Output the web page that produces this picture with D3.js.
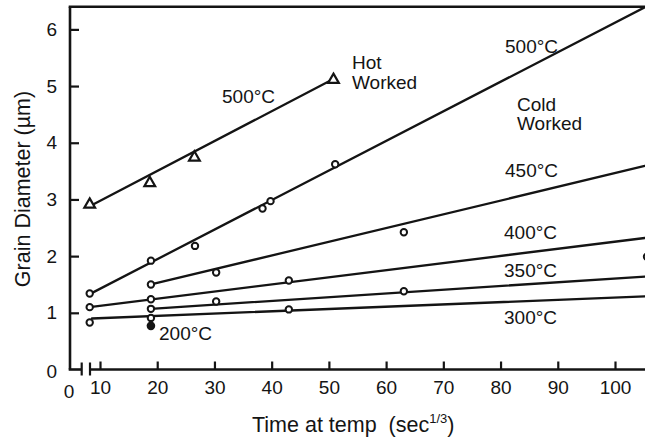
<!DOCTYPE html>
<html>
<head>
<meta charset="utf-8">
<script src="https://cdn.jsdelivr.net/npm/d3@7"></script>
<style>
  html, body { margin: 0; padding: 0; background: #fff; }
  svg { display: block; font-family: "Liberation Sans", Arial, Helvetica, sans-serif; }
  text { fill: #141414; }
</style>
</head>
<body>
<svg id="chart" width="645" height="440"></svg>
<script>
// Tick values
const xTicks = [10, 20, 30, 40, 50, 60, 70, 80, 90, 100];
const yTicks = [1, 2, 3, 4, 5, 6];

// Hot worked, 500°C (triangles)
const hotX = [8.2, 18.7, 26.5, 50.8];
const hotY = [2.91, 3.29, 3.74, 5.11];

// Cold worked series (open circles)
const c500X = [8.2, 18.9, 26.6, 38.4, 39.8, 51.1];
const c500Y = [1.34, 1.92, 2.18, 2.84, 2.97, 3.62];
const c450X = [18.9, 30.3, 63.1];
const c450Y = [1.50, 1.71, 2.42];
const c400X = [8.2, 18.9, 43.0, 105.6];
const c400Y = [1.10, 1.24, 1.57, 1.99];
const c350X = [18.9, 30.3, 63.1];
const c350Y = [1.07, 1.20, 1.38];
const c300X = [8.2, 18.9, 43.0];
const c300Y = [0.83, 0.91, 1.06];
// 200°C (filled point)
const c200X = [18.9];
const c200Y = [0.77];

// Fitted trend lines: [xStart, yStart, xEnd, yEnd]
const fitHot = [8.2, 2.88, 50.7, 5.12];
const fit500 = [8.2, 1.33, 105.2, 6.39];
const fit450 = [18.9, 1.50, 105.2, 3.59];
const fit400 = [8.2, 1.10, 105.2, 2.32];
const fit350 = [18.9, 1.07, 105.2, 1.64];
const fit300 = [8.6, 0.90, 105.2, 1.29];

const svg = d3.select("#chart");
const originX = 70;
const x = d3.scaleLinear().domain([10, 100]).range([100, 615]);
const y = d3.scaleLinear().domain([0, 6.4]).range([369.5, 6.7]);
const right = 645;

const ink = "#141414";

// Frame: left axis and top border
svg.append("line").attr("x1", originX).attr("x2", originX)
  .attr("y1", y(6.4)).attr("y2", y(0)).attr("stroke", ink).attr("stroke-width", 2.6);
svg.append("line").attr("x1", originX - 1.3).attr("x2", right)
  .attr("y1", y(6.4)).attr("y2", y(6.4)).attr("stroke", ink).attr("stroke-width", 2.6);

// Bottom axis with a break near the origin
const breakL = 81.7, breakR = 90;
svg.append("line").attr("x1", originX - 1.3).attr("x2", breakL)
  .attr("y1", y(0)).attr("y2", y(0)).attr("stroke", ink).attr("stroke-width", 2.6);
svg.append("line").attr("x1", breakR).attr("x2", right)
  .attr("y1", y(0)).attr("y2", y(0)).attr("stroke", ink).attr("stroke-width", 2.6);
[breakL, breakR].forEach(bx => {
  svg.append("line").attr("x1", bx).attr("x2", bx)
    .attr("y1", y(0) - 7).attr("y2", y(0) + 6).attr("stroke", ink).attr("stroke-width", 2.2);
});

const xAxis = svg.append("g").attr("transform", `translate(0,${y(0)})`)
  .call(d3.axisBottom(x).tickValues(xTicks).tickSize(-8).tickPadding(19).tickFormat(d3.format("d")));
xAxis.select(".domain").remove();
xAxis.selectAll(".tick line").attr("stroke", ink).attr("stroke-width", 2.2);
xAxis.selectAll(".tick text").attr("font-size", 19).attr("fill", ink)
  .attr("font-family", "Liberation Sans, Arial, sans-serif").attr("dy", "0.3em");
// origin label of the broken axis
svg.append("text").attr("x", originX - 1).attr("y", 397.5).attr("text-anchor", "middle")
  .attr("font-size", 19).text("0");

const yAxis = svg.append("g").attr("transform", `translate(${originX},0)`)
  .call(d3.axisLeft(y).tickValues(yTicks).tickSize(-9).tickPadding(13).tickFormat(d3.format("d")));
yAxis.select(".domain").remove();
yAxis.selectAll(".tick line").attr("stroke", ink).attr("stroke-width", 2.2);
yAxis.selectAll(".tick text").attr("font-size", 19).attr("fill", ink)
  .attr("font-family", "Liberation Sans, Arial, sans-serif");
svg.append("text").attr("x", 57).attr("y", y(0)).attr("dy", "0.45em").attr("text-anchor", "end")
  .attr("font-size", 19).text("0");

// Axis titles
const xt = svg.append("text").attr("x", 252).attr("y", 431.5).attr("font-size", 21.5)
  .style("white-space", "pre");
xt.append("tspan").text("Time at temp  (sec");
xt.append("tspan").attr("font-size", 13).attr("dy", -9).text("1/3");
xt.append("tspan").attr("dy", 9).text(")");

svg.append("text").attr("transform", "translate(30,189) rotate(-90)")
  .attr("text-anchor", "middle").attr("font-size", 21.5).text("Grain Diameter (µm)");

// Trend lines
const fits = [fitHot, fit500, fit450, fit400, fit350, fit300];
svg.append("g").selectAll("line").data(fits).join("line")
  .attr("x1", d => x(d[0])).attr("y1", d => y(d[1]))
  .attr("x2", d => x(d[2])).attr("y2", d => y(d[3]))
  .attr("stroke", ink).attr("stroke-width", 2.3).attr("stroke-linecap", "round");

// Open-circle points
const circleSeries = [[c500X, c500Y], [c450X, c450Y], [c400X, c400Y], [c350X, c350Y], [c300X, c300Y]];
const circlePts = circleSeries.flatMap(([xs, ys]) => xs.map((v, i) => [v, ys[i]]));
svg.append("g").selectAll("circle").data(circlePts).join("circle")
  .attr("cx", d => x(d[0])).attr("cy", d => y(d[1])).attr("r", 3.2)
  .attr("fill", "#fff").attr("stroke", ink).attr("stroke-width", 2);

// Filled point
svg.append("g").selectAll("circle").data(c200X.map((v, i) => [v, c200Y[i]])).join("circle")
  .attr("cx", d => x(d[0])).attr("cy", d => y(d[1])).attr("r", 4.3).attr("fill", ink);

// Triangles
const tri = d3.symbol().type(d3.symbolTriangle).size(50);
svg.append("g").selectAll("path").data(hotX.map((v, i) => [v, hotY[i]])).join("path")
  .attr("d", tri).attr("transform", d => `translate(${x(d[0])},${y(d[1])})`)
  .attr("fill", "#fff").attr("stroke", ink).attr("stroke-width", 2.2);

// Curve annotations
const notes = [
  ["500°C", 222, 103], ["Hot", 352, 69], ["Worked", 352, 89],
  ["500°C", 505, 53], ["Cold", 517, 111], ["Worked", 517, 130],
  ["450°C", 505, 177], ["400°C", 504, 238.5], ["350°C", 504, 277],
  ["300°C", 504, 323.5], ["200°C", 159, 339.5]
];
svg.append("g").selectAll("text").data(notes).join("text")
  .attr("x", d => d[1]).attr("y", d => d[2]).attr("font-size", 19).text(d => d[0]);
</script>
</body>
</html>
